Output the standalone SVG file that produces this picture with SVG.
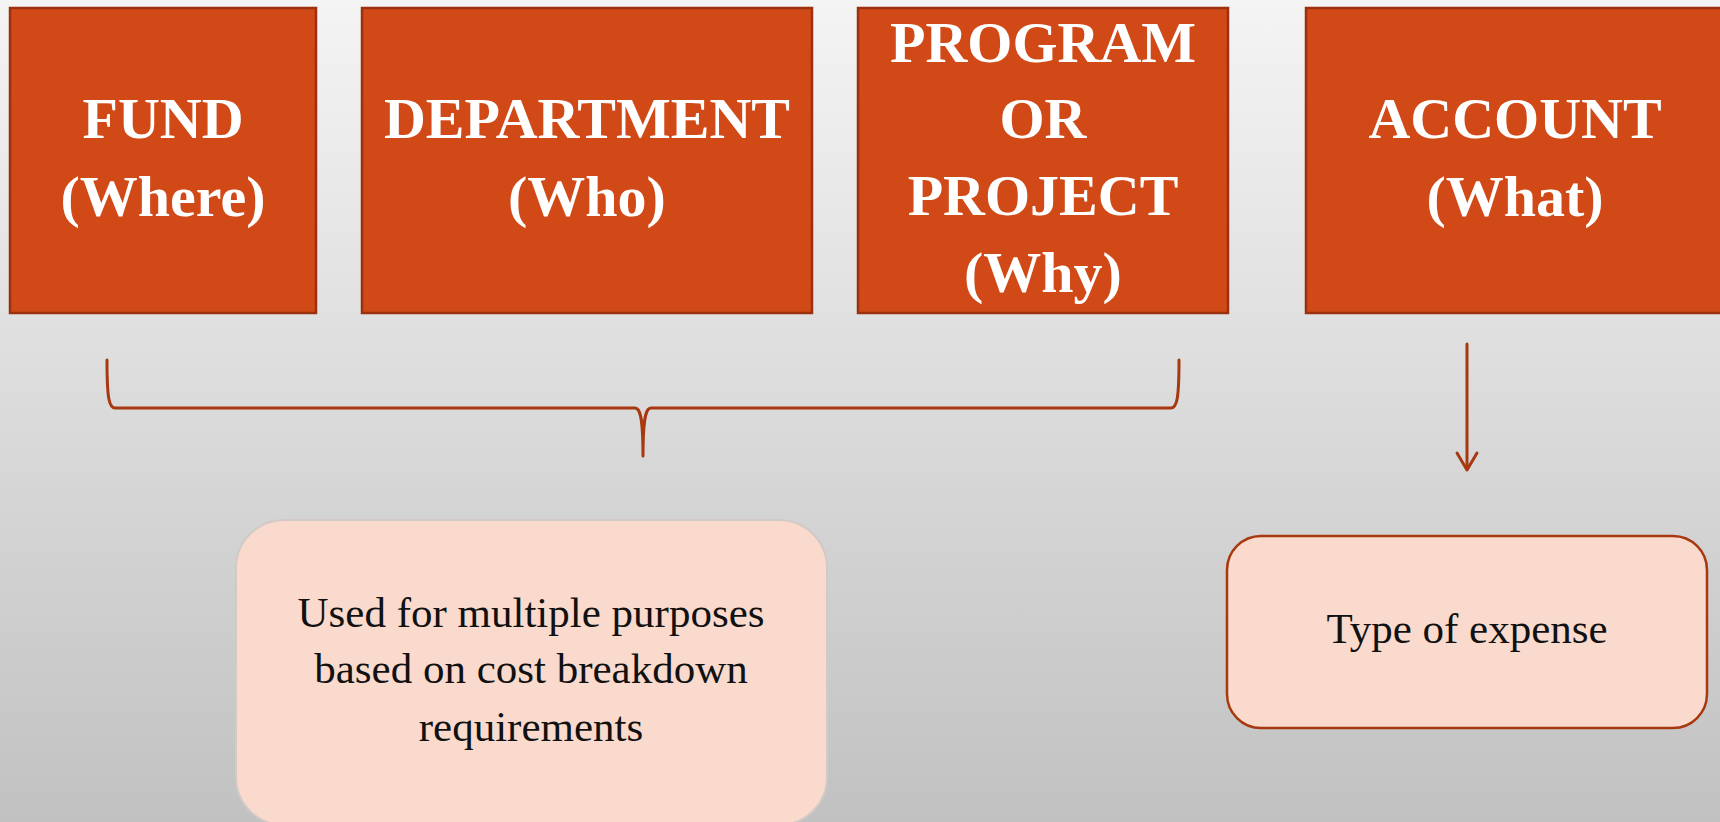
<svg xmlns="http://www.w3.org/2000/svg" width="1720" height="822" viewBox="0 0 1720 822">
<defs>
<linearGradient id="bg" x1="0" y1="0" x2="0" y2="1">
<stop offset="0" stop-color="#f4f4f4"/>
<stop offset="1" stop-color="#c1c1c1"/>
</linearGradient>
<style>
.box{fill:#d14916;stroke:#9c300e;stroke-width:2.5}
.ht{font-family:"Liberation Serif",serif;font-weight:bold;font-size:58px;fill:#ffffff;text-anchor:middle}
.call{fill:#f9dacd}
.bt{font-family:"Liberation Serif",serif;font-size:43px;fill:#111111;text-anchor:middle}
.con{fill:none;stroke:#a8380f;stroke-width:3;stroke-linecap:round;stroke-linejoin:round}
</style>
</defs>
<rect x="0" y="0" width="1720" height="822" fill="url(#bg)"/>
<g id="fund">
<rect class="box" x="10" y="8" width="306" height="305"/>
<text class="ht" x="163" y="138">FUND</text>
<text class="ht" x="163" y="216">(Where)</text>
</g>
<g id="department">
<rect class="box" x="362" y="8" width="450" height="305"/>
<text class="ht" x="587" y="138">DEPARTMENT</text>
<text class="ht" x="587" y="216">(Who)</text>
</g>
<g id="program">
<rect class="box" x="858" y="8" width="370" height="305"/>
<text class="ht" x="1043" y="62">PROGRAM</text>
<text class="ht" x="1043" y="138">OR</text>
<text class="ht" x="1043" y="215">PROJECT</text>
<text class="ht" x="1043" y="292">(Why)</text>
</g>
<g id="account">
<rect class="box" x="1306" y="8" width="420" height="305"/>
<text class="ht" x="1515" y="138">ACCOUNT</text>
<text class="ht" x="1515" y="216">(What)</text>
</g>
<g id="connectors">
<path class="con" d="M107,360 C107,398 109,408 115,408 L635,408 C640,408 643,416 643,456 C643,416 646,408 651,408 L1171,408 C1177,408 1179,398 1179,360"/>
<path class="con" d="M1467,344 L1467,469"/>
<path class="con" d="M1457,453 L1467,470 L1477,453"/>
</g>
<g id="purposes">
<rect class="call" x="236" y="520" width="591" height="305" rx="48" ry="48" stroke="#d2cac6" stroke-width="2"/>
<text class="bt" x="531" y="627">Used for multiple purposes</text>
<text class="bt" x="531" y="683">based on cost breakdown</text>
<text class="bt" x="531" y="741">requirements</text>
</g>
<g id="expense">
<rect class="call" x="1227" y="536" width="480" height="192" rx="34" ry="34" stroke="#a8380f" stroke-width="2.5"/>
<text class="bt" x="1467" y="643">Type of expense</text>
</g>
</svg>
